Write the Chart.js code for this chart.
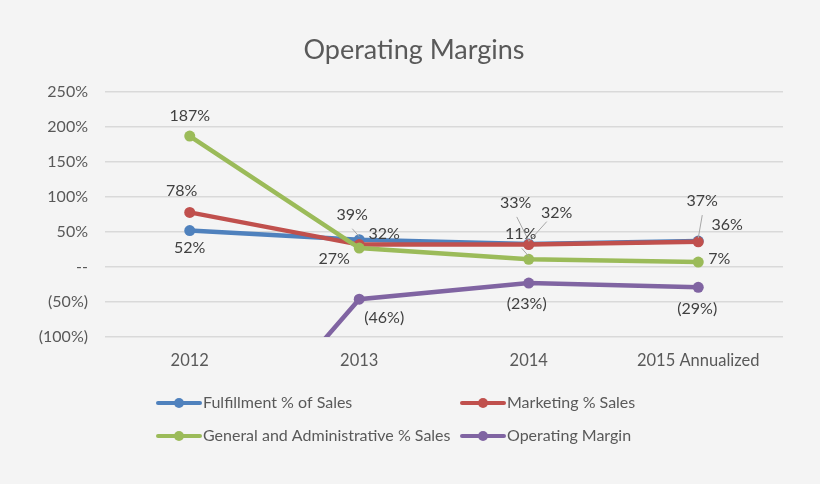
<!DOCTYPE html>
<html>
<head>
<meta charset="utf-8">
<script src="https://cdn.jsdelivr.net/npm/chart.js@4"></script>
<style>
  html, body { margin: 0; padding: 0; background: #f4f4f4; }
  #wrap { width: 820px; height: 484px; position: relative; }
</style>
</head>
<body>
<div id="wrap"><canvas id="marginChart" width="820" height="484"></canvas></div>
<script>
const years = ['2012', '2013', '2014', '2015 Annualized'];
const fulfillment = [52, 39, 33, 37];
const marketing = [78, 32, 32, 36];
const generalAdmin = [187, 27, 11, 7];
const operatingMargin = [-325, -46, -23, -29];
const yTicks = [250, 200, 150, 100, 50, 0, -50, -100];

const FONT = 'Lato, "Open Sans", sans-serif';
const TEXT = '#595959';

// label placement per series: [dx, dy] from the point, plus optional leader start
const labelPlace = {
    fulfillment: [[0, 17], [-7, -25], [-13, -41], [4, -40]],
    marketing: [[-8, -22], [25, -11], [28, -32], [29, -17]],
    generalAdmin: [[0, -20], [-25, 11], [-8, -25], [21, -3]],
    operatingMargin: [null, [25, 19], [-2, 21], [-1, 22]]
};
const leaders = {
    fulfillment: [null, [-7, -11], [-12, -27], [4, -26]],
    marketing: [null, null, [18, -23], null],
    generalAdmin: [null, null, [-7, -11], null],
    operatingMargin: [null, null, null, null]
};

function pctLabel(v) {
    if (v === 0) return '--';
    return v < 0 ? '(' + Math.abs(v) + '%)' : v + '%';
}

const labelPlugin = {
    id: 'excelLabels',
    afterDatasetsDraw(chart) {
        const ctx = chart.ctx;
        const area = chart.chartArea;
        ctx.save();
        chart.data.datasets.forEach((ds, di) => {
            const meta = chart.getDatasetMeta(di);
            meta.data.forEach((pt, i) => {
                const place = labelPlace[ds.key][i];
                if (!place || pt.y > area.bottom) return;
                const lead = leaders[ds.key][i];
                if (lead) {
                    ctx.strokeStyle = '#a6a6a6';
                    ctx.lineWidth = 1;
                    ctx.beginPath();
                    ctx.moveTo(pt.x + lead[0], pt.y + lead[1]);
                    ctx.lineTo(pt.x, pt.y - 3);
                    ctx.stroke();
                }
                ctx.fillStyle = '#404040';
                ctx.font = '16px ' + FONT;
                ctx.textAlign = 'center';
                ctx.textBaseline = 'middle';
                ctx.fillText(pctLabel(ds.data[i]), pt.x + place[0], pt.y + place[1]);
            });
        });
        ctx.restore();
    },
    afterDraw(chart) {
        const ctx = chart.ctx;
        ctx.save();
        ctx.fillStyle = TEXT;
        ctx.font = '27px ' + FONT;
        ctx.textAlign = 'center';
        ctx.textBaseline = 'middle';
        ctx.fillText('Operating Margins', 414, 50);

        // legend, two columns like the original
        const spots = [[158, 403], [462, 403], [158, 436], [462, 436]];
        ctx.font = '16px ' + FONT;
        ctx.textAlign = 'left';
        chart.data.datasets.forEach((ds, i) => {
            const [x, y] = spots[i];
            ctx.strokeStyle = ds.borderColor;
            ctx.lineWidth = 4;
            ctx.lineCap = 'round';
            ctx.beginPath();
            ctx.moveTo(x, y);
            ctx.lineTo(x + 42, y);
            ctx.stroke();
            ctx.fillStyle = ds.borderColor;
            ctx.beginPath();
            ctx.arc(x + 21, y, 5, 0, Math.PI * 2);
            ctx.fill();
            ctx.fillStyle = TEXT;
            ctx.fillText(ds.label, x + 45, y);
        });
        ctx.restore();
    }
};

function series(key, label, data, color, order) {
    return {
        key: key,
        label: label,
        data: data,
        borderColor: color,
        backgroundColor: color,
        borderWidth: 4.5,
        pointRadius: 5.5,
        pointHoverRadius: 5.5,
        pointBorderWidth: 0,
        tension: 0,
        order: order
    };
}

new Chart(document.getElementById('marginChart').getContext('2d'), {
    type: 'line',
    data: {
        labels: years,
        datasets: [
            series('fulfillment', 'Fulfillment % of Sales', fulfillment, '#4f81bd', 4),
            series('marketing', 'Marketing % Sales', marketing, '#c0504d', 3),
            series('generalAdmin', 'General and Administrative % Sales', generalAdmin, '#9bbb59', 2),
            series('operatingMargin', 'Operating Margin', operatingMargin, '#8064a2', 1)
        ]
    },
    options: {
        responsive: false,
        animation: false,
        layout: { padding: { top: 92, right: 37, bottom: 107, left: 0 } },
        scales: {
            x: {
                offset: true,
                grid: { display: false, drawTicks: false },
                border: { display: false },
                ticks: { color: TEXT, font: { family: FONT, size: 16.5 }, padding: 14 },
                afterFit(scale) { scale.height = 40; }
            },
            y: {
                min: -100,
                max: 250,
                afterBuildTicks(scale) { scale.ticks = yTicks.map(v => ({ value: v })); },
                grid: { color: '#d9d9d9', lineWidth: 1.5, drawTicks: false },
                border: { display: false },
                ticks: {
                    color: TEXT,
                    font: { family: FONT, size: 16 },
                    padding: 17,
                    callback: v => pctLabel(v)
                },
                afterFit(scale) { scale.width = 105; }
            }
        },
        plugins: {
            legend: { display: false },
            tooltip: { enabled: false }
        }
    },
    plugins: [labelPlugin]
});
</script>
</body>
</html>
